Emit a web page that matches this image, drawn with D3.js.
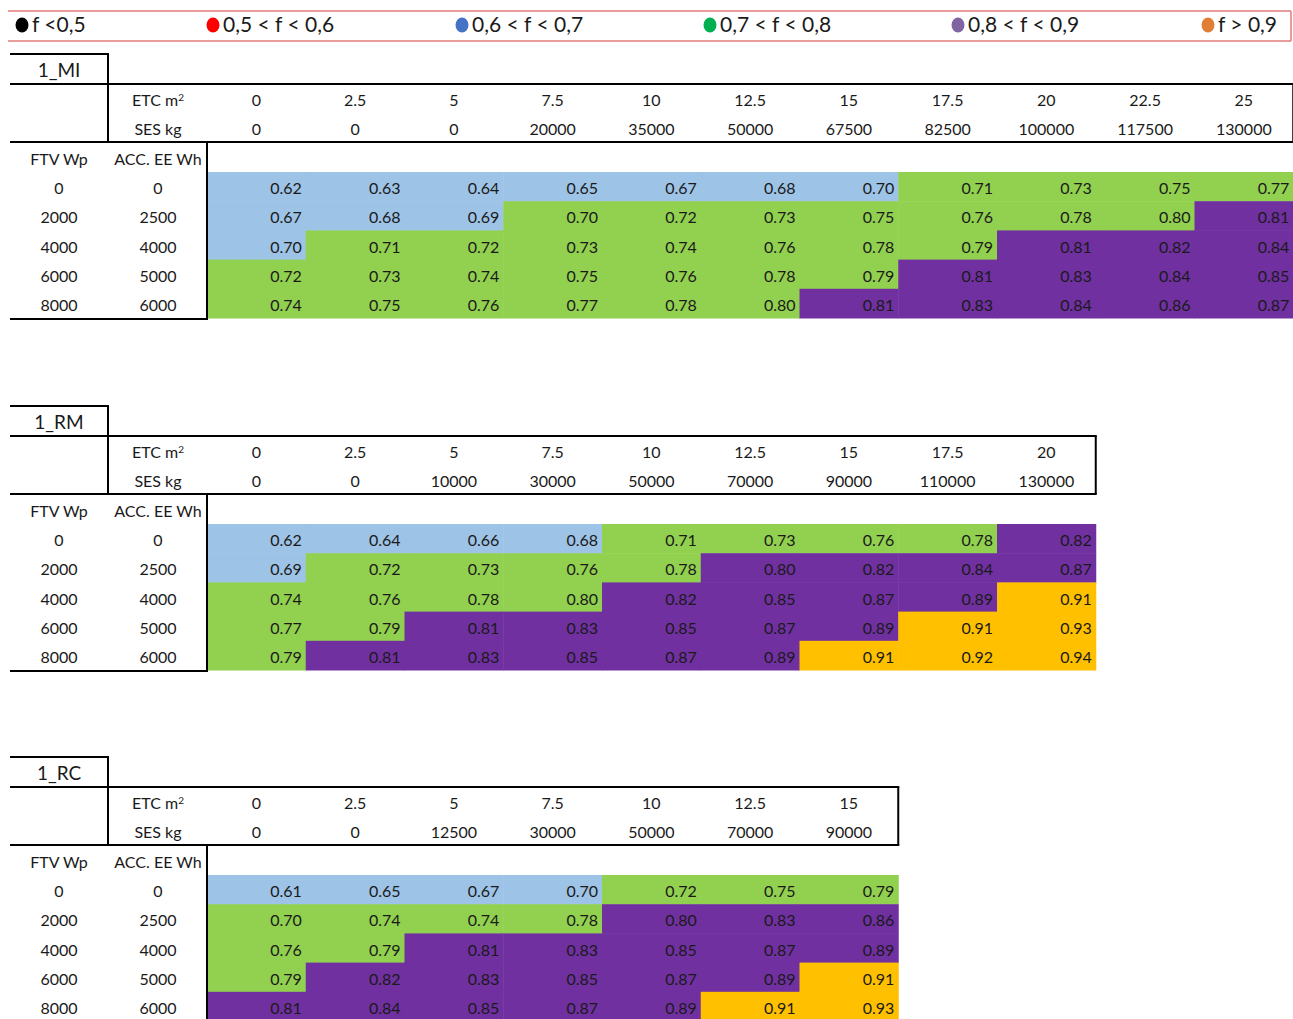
<!DOCTYPE html>
<html><head><meta charset="utf-8">
<script src="https://cdn.jsdelivr.net/npm/d3@7"></script>
<style>
body{margin:0;background:#fff;}
text{font-family:Lato,"Liberation Sans",sans-serif;fill:#1a1a1a;}
</style></head>
<body>
<svg id="chart" width="1293" height="1019"></svg>
<script>
// ---- data ----
const legendLabels = ["f <0,5", "0,5 < f < 0,6", "0,6 < f < 0,7", "0,7 < f < 0,8", "0,8 < f < 0,9", "f > 0,9"];
const legendColors = ["#000000", "#FF0000", "#4472C4", "#00B050", "#8064A2", "#E07E35"];

const rowFTV = ["0", "2000", "4000", "6000", "8000"];
const rowACC = ["0", "2500", "4000", "5000", "6000"];

const miName = "1_MI";
const miETC = ["0","2.5","5","7.5","10","12.5","15","17.5","20","22.5","25"];
const miSES = ["0","0","0","20000","35000","50000","67500","82500","100000","117500","130000"];
const miValues = [
  [0.62,0.63,0.64,0.65,0.67,0.68,0.70,0.71,0.73,0.75,0.77],
  [0.67,0.68,0.69,0.70,0.72,0.73,0.75,0.76,0.78,0.80,0.81],
  [0.70,0.71,0.72,0.73,0.74,0.76,0.78,0.79,0.81,0.82,0.84],
  [0.72,0.73,0.74,0.75,0.76,0.78,0.79,0.81,0.83,0.84,0.85],
  [0.74,0.75,0.76,0.77,0.78,0.80,0.81,0.83,0.84,0.86,0.87]
];
// colour class of each cell (b = 0,6-0,7, g = 0,7-0,8, p = 0,8-0,9, o = >0,9)
const miClass = ["bbbbbbbgggg","bbbgggggggp","bgggggggppp","gggggggpppp","ggggggppppp"];

const rmName = "1_RM";
const rmETC = ["0","2.5","5","7.5","10","12.5","15","17.5","20"];
const rmSES = ["0","0","10000","30000","50000","70000","90000","110000","130000"];
const rmValues = [
  [0.62,0.64,0.66,0.68,0.71,0.73,0.76,0.78,0.82],
  [0.69,0.72,0.73,0.76,0.78,0.80,0.82,0.84,0.87],
  [0.74,0.76,0.78,0.80,0.82,0.85,0.87,0.89,0.91],
  [0.77,0.79,0.81,0.83,0.85,0.87,0.89,0.91,0.93],
  [0.79,0.81,0.83,0.85,0.87,0.89,0.91,0.92,0.94]
];
const rmClass = ["bbbbggggp","bggggpppp","ggggppppo","ggpppppoo","gpppppooo"];

const rcName = "1_RC";
const rcETC = ["0","2.5","5","7.5","10","12.5","15"];
const rcSES = ["0","0","12500","30000","50000","70000","90000"];
const rcValues = [
  [0.61,0.65,0.67,0.70,0.72,0.75,0.79],
  [0.70,0.74,0.74,0.78,0.80,0.83,0.86],
  [0.76,0.79,0.81,0.83,0.85,0.87,0.89],
  [0.79,0.82,0.83,0.85,0.87,0.89,0.91],
  [0.81,0.84,0.85,0.87,0.89,0.91,0.93]
];
const rcClass = ["bbbbggg","ggggppp","ggppppp","gpppppo","pppppoo"];

const fillColors = {b:"#9DC3E6", g:"#92D050", p:"#7030A0", o:"#FFC000"};

// ---- drawing ----
const svg = d3.select("#chart");
const fs = 16;

// legend
const lg = svg.append("g");
const legendDotX = [22, 213, 462, 710, 958, 1208];
const legendStroke = "#E07B7B";
lg.append("line").attr("x1",8).attr("x2",1291).attr("y1",11).attr("y2",11).attr("stroke",legendStroke).attr("stroke-width",1.5);
lg.append("line").attr("x1",8).attr("x2",1291).attr("y1",41).attr("y2",41).attr("stroke",legendStroke).attr("stroke-width",1.5);
lg.append("line").attr("x1",1291).attr("x2",1291).attr("y1",11).attr("y2",41).attr("stroke",legendStroke).attr("stroke-width",1.5);
const li = lg.selectAll("g.li").data(legendLabels).join("g").attr("class","li")
  .attr("transform",(d,i)=>`translate(${legendDotX[i]},25)`);
li.append("ellipse").attr("rx",6.5).attr("ry",7.5).attr("fill",(d,i)=>legendColors[i]);
li.append("text").attr("x",10).attr("dy","0.35em").attr("font-size",21).text(d=>d);

function drawTable(top, name, etc, ses, values, cls){
  const n = etc.length;
  const colW = 98.75;
  const x = d3.scaleLinear().domain([0,n]).range([207, 207 + n*colW]);
  const R = x(n);
  const rowH = 29.2;
  const dataTop = top + 118;
  const y = d3.scaleLinear().domain([0,5]).range([dataTop, dataTop + 5*rowH]);
  const g = svg.append("g");
  const line = (x1,y1,x2,y2)=>g.append("line").attr("x1",x1).attr("y1",y1).attr("x2",x2).attr("y2",y2)
     .attr("stroke","#000").attr("stroke-width",2);

  // cells
  values.forEach((row,r)=>{
    row.forEach((v,c)=>{
      g.append("rect").attr("x",x(c)).attr("y",y(r)).attr("width",x(c+1)-x(c)+0.5).attr("height",y(r+1)-y(r)+0.5)
        .attr("fill",fillColors[cls[r][c]]);
      g.append("text").attr("x",x(c+1)-4).attr("y",(y(r)+y(r+1))/2+2).attr("dy","0.35em")
        .attr("text-anchor","end").attr("font-size",fs).text(v.toFixed(2));
    });
    g.append("text").attr("x",59).attr("y",(y(r)+y(r+1))/2+2).attr("dy","0.35em").attr("text-anchor","middle").attr("font-size",fs).text(rowFTV[r]);
    g.append("text").attr("x",158).attr("y",(y(r)+y(r+1))/2+2).attr("dy","0.35em").attr("text-anchor","middle").attr("font-size",fs).text(rowACC[r]);
  });

  // headers
  const etcY = top + 30 + 14.5 + 2, sesY = top + 30 + 43.5 + 2, hY = top + 88 + 15 + 2;
  g.append("text").attr("x",59).attr("y",top+15+1).attr("dy","0.35em").attr("text-anchor","middle").attr("font-size",19).text(name);
  const etcT = g.append("text").attr("x",158).attr("y",etcY).attr("dy","0.35em").attr("text-anchor","middle").attr("font-size",fs);
  etcT.append("tspan").text("ETC m");
  etcT.append("tspan").attr("font-size",10).attr("dy","-0.5em").text("2");
  g.append("text").attr("x",158).attr("y",sesY).attr("dy","0.35em").attr("text-anchor","middle").attr("font-size",fs).text("SES kg");
  etc.forEach((t,c)=>g.append("text").attr("x",(x(c)+x(c+1))/2).attr("y",etcY).attr("dy","0.35em").attr("text-anchor","middle").attr("font-size",fs).text(t));
  ses.forEach((t,c)=>g.append("text").attr("x",(x(c)+x(c+1))/2).attr("y",sesY).attr("dy","0.35em").attr("text-anchor","middle").attr("font-size",fs).text(t));
  g.append("text").attr("x",59).attr("y",hY).attr("dy","0.35em").attr("text-anchor","middle").attr("font-size",fs).text("FTV Wp");
  g.append("text").attr("x",158).attr("y",hY).attr("dy","0.35em").attr("text-anchor","middle").attr("font-size",fs).text("ACC. EE Wh");

  // borders
  line(10, top, 109, top);
  line(108, top, 108, top+88);
  line(10, top+30, R+1, top+30);
  line(10, top+88, R+1, top+88);
  line(R, top+30, R, top+88);
  line(207, top+88, 207, y(5)+1);
  line(10, y(5)+1, 208, y(5)+1);
}

drawTable(54, miName, miETC, miSES, miValues, miClass);
drawTable(406, rmName, rmETC, rmSES, rmValues, rmClass);
drawTable(757, rcName, rcETC, rcSES, rcValues, rcClass);
</script>
</body></html>
